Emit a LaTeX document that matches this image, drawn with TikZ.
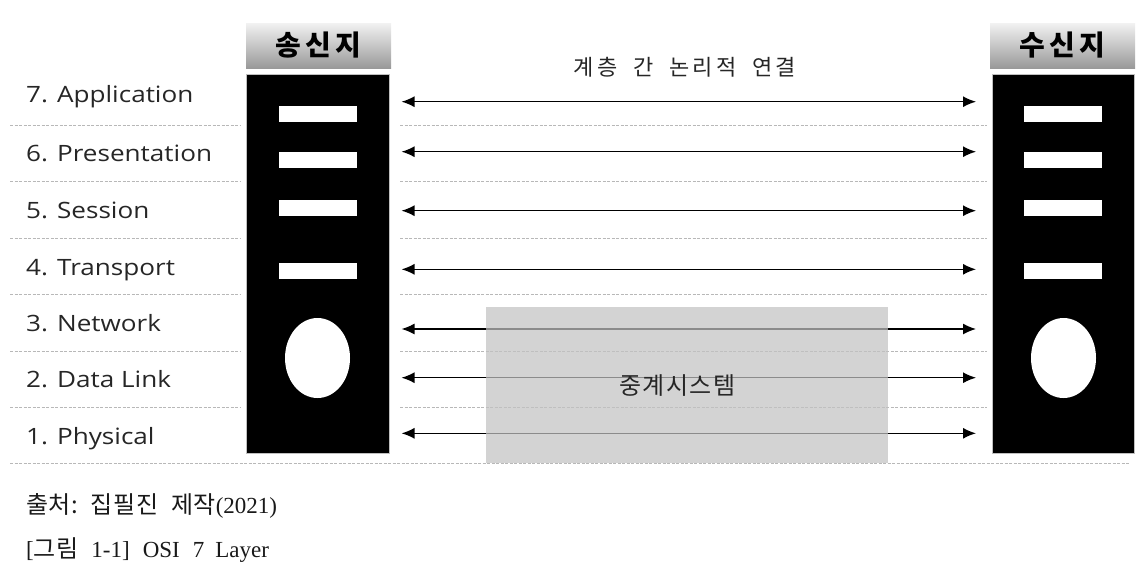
\documentclass[tikz,border=0pt]{standalone}
\usepackage{fontspec}
\usetikzlibrary{arrows.meta,shapes.geometric}
\setmainfont{Liberation Serif}
\newfontfamily\kr{Noto Sans CJK KR}
\newfontfamily\krsp[LetterSpace=14]{Noto Sans CJK KR}
\newfontfamily\krhd[LetterSpace=14]{Noto Sans CJK KR}
\newfontfamily\krrel[LetterSpace=6]{Noto Sans CJK KR}
\newfontfamily\krcap[LetterSpace=2]{Noto Sans CJK KR}
\newfontfamily\lab[FakeStretch=1.16]{Open Sans}
\definecolor{relaygray}{RGB}{194,194,194}
\begin{document}
\begin{tikzpicture}[x=1pt,y=-1pt,
  dashline/.style={draw=black!28,line width=0.8pt,dash pattern=on 3pt off 1.5pt},
  hdr/.style={rectangle,minimum width=145pt,minimum height=45pt,inner sep=0pt,
    top color=black!5,bottom color=black!40,
    font=\krhd\bfseries\fontsize{28}{30}\selectfont},
  stackbox/.style={rectangle,fill=black,draw=black!25,line width=0.8pt,
    minimum height=379pt,inner sep=0pt},
  bar/.style={rectangle,fill=white,minimum width=78pt,minimum height=16pt,inner sep=0pt},
  hole/.style={ellipse,fill=white,minimum width=65pt,minimum height=80pt,inner sep=0pt},
  layer/.style={anchor=base west,inner sep=0pt,text=black!85,
    font=\lab\fontsize{22.5}{26}\selectfont},
  link/.style={{Latex[length=13pt,width=11pt]}-{Latex[length=13pt,width=11pt]},line width=1.4pt},
  caption/.style={anchor=base west,inner sep=0pt,text=black!90},
  relay/.style={rectangle,fill=relaygray,fill opacity=0.72,inner sep=0pt,
    minimum width=402pt,minimum height=156pt}
]
\useasboundingbox (0,0) rectangle (1142,574);

% dashed separators
\foreach \yy in {125,181,238,294,351,407}{
  \draw[dashline] (10,\yy) -- (241,\yy);
  \draw[dashline] (400,\yy) -- (987,\yy);
}
\draw[dashline] (10,463) -- (1130,463);

% headers
\node[hdr] (hL) at (318.5,45.5) {송신지};
\node[hdr] (hR) at (1062.5,45.5) {수신지};

% stacks
\node[stackbox,minimum width=143pt] (sL) at (317.5,263.5) {};
\node[stackbox,minimum width=142pt] (sR) at (1063,263.5) {};

% bars and holes
\node[bar] (bL7) at (318,113.5) {};
\node[bar] (bL6) at (318,160) {};
\node[bar] (bL5) at (318,208.2) {};
\node[bar] (bL4) at (318,271.2) {};
\node[hole] (eL) at (317.5,358) {};
\node[bar] (bR7) at (1063,113.5) {};
\node[bar] (bR6) at (1063,160) {};
\node[bar] (bR5) at (1063,208.2) {};
\node[bar] (bR4) at (1063,271.2) {};
\node[hole] (eR) at (1063.5,358) {};

% layer labels
\node[layer] (l7) at (26,102.7) {7. Application};
\node[layer] (l6) at (26,161) {6. Presentation};
\node[layer] (l5) at (26,218.3) {5. Session};
\node[layer] (l4) at (26,275) {4. Transport};
\node[layer] (l3) at (26,331.7) {3. Network};
\node[layer] (l2) at (26,387.7) {2. Data Link};
\node[layer] (l1) at (26,444.3) {1. Physical};

% arrow end points
\foreach \n/\yy in {7/101.7,6/151.7,5/210.7,4/269.3,3/329,2/377.7,1/433.3}{
  \coordinate (a\n) at (401.5,\yy);
  \coordinate (b\n) at (976,\yy);
}
\foreach \n in {7,6,5,4,3,2,1}{
  \draw[link] (a\n) -- (b\n);
}

% title
\node[text=black!85,font=\krsp\fontsize{22}{24}\selectfont] (title) at (685,67)
  {계층\hspace{16pt}간\hspace{16pt}논리적\hspace{16pt}연결};

% relay system
\node[relay] (relay) at (687,385) {};
\node[text=black!85,font=\krrel\fontsize{24}{26}\selectfont] (relayt) at (677.5,386) {중계시스템};

% captions
\node[caption] (src) at (26,513) {{\krcap\fontsize{24}{26}\selectfont 출처:\hspace{13pt}집필진\hspace{13pt}제작}\fontsize{23}{24}\selectfont(2021)};
\node[caption] (fig) at (26,557) {\fontsize{23}{24}\selectfont[{\krcap\fontsize{24}{26}\selectfont 그림}\hspace{13pt}1-1]\hspace{13pt}OSI\hspace{13pt}7\hspace{11pt}Layer};
\end{tikzpicture}
\end{document}
